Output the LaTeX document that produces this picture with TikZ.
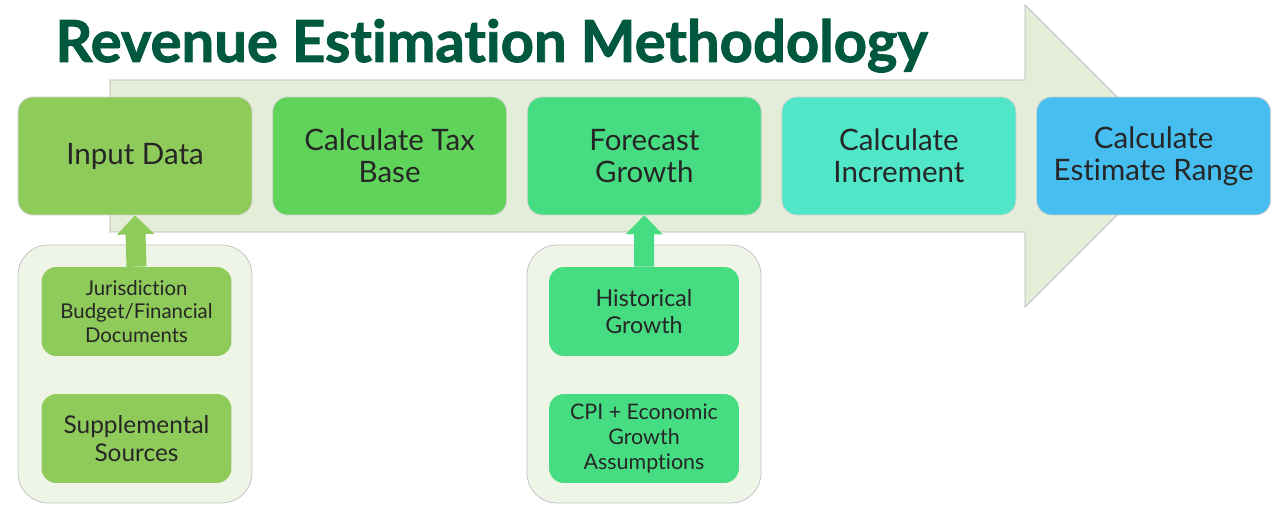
\documentclass[tikz,border=0pt]{standalone}
\usepackage{fontspec}
\setmainfont{Lato}[Ligatures=NoCommon]
\newfontfamily\headfont[Ligatures=NoCommon,BoldFeatures={FakeBold=1.6}]{Lato}
\usetikzlibrary{positioning,arrows.meta}

\definecolor{titlegreen}{HTML}{00583E}
\definecolor{inputcol}{HTML}{8FCB5A}
\definecolor{basecol}{HTML}{60D45A}
\definecolor{growthcol}{HTML}{46DC82}
\definecolor{incrcol}{HTML}{50E6C8}
\definecolor{rangecol}{HTML}{46BEF0}
\definecolor{arrowfill}{HTML}{E4EDD7}
\definecolor{groupfill}{HTML}{EEF4E6}

\tikzset{
  stage/.style={rounded corners=0.3cm, draw=black!18, minimum width=4.68cm,
    minimum height=2.36cm, align=center, text=black!85,
    font=\fontsize{16.8}{18.4}\selectfont},
  group/.style={rounded corners=0.6cm, draw=black!25, fill=groupfill,
    minimum width=4.68cm, minimum height=5.16cm},
  source/.style={rounded corners=0.3cm, minimum width=3.8cm,
    minimum height=1.78cm, align=center, text=black!85,
    font=\fontsize{12.2}{14.2}\selectfont},
  feed/.style={line width=0.4cm, -{Triangle[width=0.72cm,length=0.38cm]}}
}

\begin{document}
\begin{tikzpicture}[x=0.02cm, y=-0.02cm, node distance=0.4cm]
  \useasboundingbox (0,0) rectangle (1281,506);

  % Title
  \node[anchor=base west, inner sep=0, text=titlegreen,
        font=\fontsize{33}{36}\selectfont\headfont\bfseries] (title) at (55,62)
        {Revenue Estimation Methodology};

  % Process arrow in the background
  \draw[black!30, fill=arrowfill] (110,80) -- (1025,80) -- (1025,5)
    -- (1176,156) -- (1025,307) -- (1025,232) -- (110,232) -- cycle;

  % Source groups
  \node[group] (grpin) at (135,374) {};
  \node[group] (grpgr) at (644,374) {};

  % Stages
  \node[stage, fill=inputcol] (input) at (135,156) {Input Data};
  \node[stage, fill=basecol, right=of input] (base) {Calculate Tax\\Base};
  \node[stage, fill=growthcol, right=of base] (growth) {Forecast\\Growth};
  \node[stage, fill=incrcol, right=of growth] (incr) {Calculate\\Increment};
  \node[stage, fill=rangecol, right=of incr] (range) {Calculate\\Estimate Range};

  % Sources feeding input data
  \node[source, fill=inputcol, font=\fontsize{11.6}{13.6}\selectfont] (juris) at (136.5,311.5)
    {Jurisdiction\\Budget/Financial\\Documents};
  \node[source, fill=inputcol, font=\fontsize{13.9}{15.9}\selectfont] (suppl) at (136.5,438.5)
    {Supplemental\\Sources};

  % Sources feeding growth
  \node[source, fill=growthcol, font=\fontsize{13.2}{15.3}\selectfont] (hist) at (644,311.5)
    {Historical\\Growth};
  \node[source, fill=growthcol] (cpi) at (644,438.5)
    {CPI + Economic\\Growth\\Assumptions};

  \draw[feed, inputcol] (juris.north) -- (input.south);
  \draw[feed, growthcol] (hist.north) -- (growth.south);
\end{tikzpicture}
\end{document}
